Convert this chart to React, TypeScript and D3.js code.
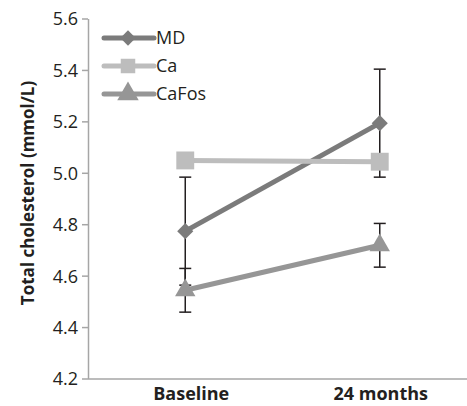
import { useEffect, useRef } from 'react';
import * as d3 from 'd3';

// chart data
const categories = ['Baseline', '24 months'];
const seriesNames = ['MD', 'Ca', 'CaFos'];
const mdValues = [4.775, 5.195];
const caValues = [5.05, 5.045];
const caFosValues = [4.545, 4.72];
const mdErrors = [0.21, 0.21];
const caErrors = [0, 0];
const caFosErrors = [0.085, 0.085];
const yTicks = [4.2, 4.4, 4.6, 4.8, 5.0, 5.2, 5.4, 5.6];

const colors = ['#7b7b7b', '#bdbdbd', '#969696'];
const shapes = [d3.symbolDiamond2, d3.symbolSquare, d3.symbolTriangle];
const markerSizes = [165, 320, 180];
const legendSizes = [150, 210, 200];
const font = '"Open Sans", "Liberation Sans", sans-serif';

const App = () => {
  const ref = useRef<SVGSVGElement>(null);

  useEffect(() => {
    const svg = d3.select(ref.current);
    svg.selectAll('*').remove();

    const x = d3.scalePoint<string>().domain(categories).range([88, 477]).padding(0.5);
    const y = d3.scaleLinear().domain([4.2, 5.6]).range([379, 19]);

    const values = [mdValues, caValues, caFosValues];
    const errors = [mdErrors, caErrors, caFosErrors];

    // y axis
    svg.append('line')
      .attr('x1', 88.5).attr('x2', 88.5)
      .attr('y1', y(5.6)).attr('y2', y(4.2))
      .attr('stroke', '#a6a6a6').attr('stroke-width', 1.5);
    yTicks.forEach((t) => {
      svg.append('line')
        .attr('x1', 82).attr('x2', 88)
        .attr('y1', y(t)).attr('y2', y(t))
        .attr('stroke', '#a6a6a6').attr('stroke-width', 1.5);
      svg.append('text')
        .attr('x', 78).attr('y', y(t))
        .attr('dy', '0.36em')
        .attr('text-anchor', 'end')
        .attr('font-family', font)
        .attr('font-size', 18)
        .attr('fill', '#231f20')
        .text(t.toFixed(1));
    });

    // x axis
    svg.append('line')
      .attr('x1', 88).attr('x2', 467)
      .attr('y1', y(4.2)).attr('y2', y(4.2))
      .attr('stroke', '#a6a6a6').attr('stroke-width', 1.5);
    const labelShift = [6, 1];
    categories.forEach((c, i) => {
      svg.append('text')
        .attr('x', (x(c) as number) + labelShift[i]).attr('y', 400)
        .attr('text-anchor', 'middle')
        .attr('font-family', font)
        .attr('font-weight', 'bold')
        .attr('font-size', 18)
        .attr('fill', '#231f20')
        .text(c);
    });

    // y title
    svg.append('text')
      .attr('transform', 'translate(34,193) rotate(-90)')
      .attr('text-anchor', 'middle')
      .attr('font-family', font)
      .attr('font-weight', 'bold')
      .attr('font-size', 17)
      .attr('fill', '#231f20')
      .text('Total cholesterol (mmol/L)');

    // error bars
    values.forEach((vals, si) => {
      vals.forEach((v, i) => {
        const e = errors[si][i];
        if (!e) return;
        const cx = x(categories[i]) as number;
        svg.append('line')
          .attr('x1', cx).attr('x2', cx)
          .attr('y1', y(v + e)).attr('y2', y(v - e))
          .attr('stroke', '#231f20').attr('stroke-width', 1.5);
        [v + e, v - e].forEach((b) => {
          svg.append('line')
            .attr('x1', cx - 6).attr('x2', cx + 6)
            .attr('y1', y(b)).attr('y2', y(b))
            .attr('stroke', '#231f20').attr('stroke-width', 1.5);
        });
      });
    });

    // lines and markers
    const line = d3.line<number>()
      .x((_, i) => x(categories[i]) as number)
      .y((d) => y(d));
    values.forEach((vals, si) => {
      svg.append('path')
        .attr('d', line(vals))
        .attr('fill', 'none')
        .attr('stroke', colors[si])
        .attr('stroke-width', 5);
      vals.forEach((v, i) => {
        svg.append('path')
          .attr('d', d3.symbol(shapes[si], markerSizes[si])())
          .attr('transform', `translate(${x(categories[i])},${y(v)})`)
          .attr('fill', colors[si]);
      });
    });

    // legend
    const legendY = [38, 66, 94];
    seriesNames.forEach((name, si) => {
      const ly = legendY[si];
      svg.append('line')
        .attr('x1', 104).attr('x2', 154)
        .attr('y1', ly).attr('y2', ly)
        .attr('stroke', colors[si]).attr('stroke-width', 5)
        .attr('stroke-linecap', 'round');
      svg.append('path')
        .attr('d', d3.symbol(shapes[si], legendSizes[si])())
        .attr('transform', `translate(128,${ly})`)
        .attr('fill', colors[si]);
      svg.append('text')
        .attr('x', 156).attr('y', ly)
        .attr('dy', '0.36em')
        .attr('font-family', font)
        .attr('font-size', 18)
        .attr('fill', '#231f20')
        .text(name);
    });
  }, []);

  return <svg ref={ref} width={467} height={406} style={{ position: 'absolute', left: 0, top: 0 }} />;
};

export default App;
